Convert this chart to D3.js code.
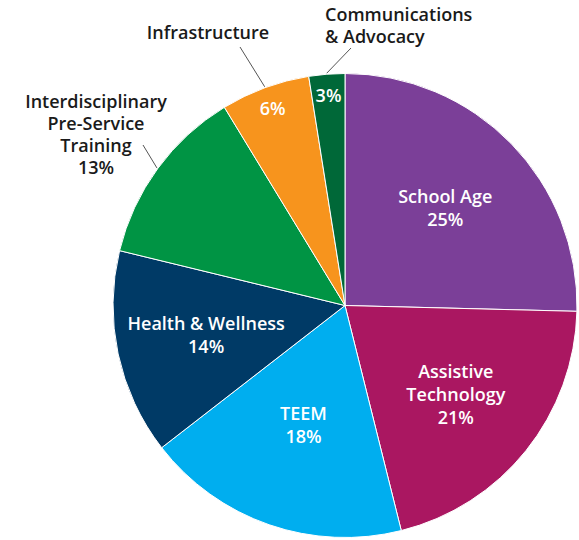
<!DOCTYPE html>
<html>
<head>
<meta charset="utf-8">
<script src="https://cdn.jsdelivr.net/npm/d3@7"></script>
<style>
  body { margin: 0; background: #fff; }
  svg text { font-family: "Open Sans", Lato, sans-serif; font-weight: 600; }
</style>
</head>
<body>
<svg id="chart" width="579" height="540"></svg>
<script>
// slice shares (labels show them rounded)
const categories = ["School Age", "Assistive Technology", "TEEM", "Health & Wellness",
  "Interdisciplinary Pre-Service Training", "Infrastructure", "Communications & Advocacy"];
const shares = [25.4, 20.7, 18.4, 14.3, 12.5, 6.2, 2.5];
const labelLines = [
  ["School Age"], ["Assistive", "Technology"], ["TEEM"], ["Health & Wellness"],
  ["Interdisciplinary", "Pre-Service", "Training"], ["Infrastructure"], ["Communications", "& Advocacy"]
];
const colors = ["#7b3f98", "#aa1761", "#00aeef", "#003a66", "#009444", "#f7941d", "#006838"];

const svg = d3.select("#chart");
const cx = 345, cy = 305.5, radius = 232;
const fontSize = "18px";

const pie = d3.pie().sort(null).value(d => d);
const arcs = pie(shares);
const arc = d3.arc().innerRadius(0).outerRadius(radius);

const g = svg.append("g").attr("transform", `translate(${cx},${cy})`);

g.selectAll("path")
  .data(arcs)
  .join("path")
  .attr("d", arc)
  .attr("fill", (d, i) => colors[i])
  .attr("stroke", "#fff")
  .attr("stroke-width", 1);

const pct = v => Math.round(v) + "%";
const lineH = 23;

// inside labels: name + percent, white
const insideR = {0: 140, 1: 142, 2: 127, 3: 142};
[0, 1, 2, 3].forEach(i => {
  const a = (arcs[i].startAngle + arcs[i].endAngle) / 2;
  const x = Math.sin(a) * insideR[i], y = -Math.cos(a) * insideR[i];
  const lines = labelLines[i].concat([pct(shares[i])]);
  const t = g.append("text")
    .attr("text-anchor", "middle")
    .attr("fill", "#fff")
    .style("font-size", fontSize);
  lines.forEach((s, k) => {
    t.append("tspan")
      .attr("x", x)
      .attr("y", y + (k - (lines.length - 1) / 2) * lineH)
      .attr("dy", "0.35em")
      .text(s);
  });
});

// small slices: percent only inside, near the rim
[5, 6].forEach(i => {
  const a = (arcs[i].startAngle + arcs[i].endAngle) / 2;
  g.append("text")
    .attr("x", Math.sin(a) * 210)
    .attr("y", -Math.cos(a) * 210)
    .attr("dy", "0.35em")
    .attr("text-anchor", "middle")
    .attr("fill", "#fff")
    .style("font-size", fontSize)
    .text(pct(shares[i]));
});

// outside labels with leader lines (page coordinates)
const outside = [
  { i: 4, lineEnd: [143, 145], x: 96, y: 102, anchor: "middle", withPct: true },
  { i: 5, lineEnd: [240, 47], x: 208, y: 33, anchor: "middle", withPct: false },
  { i: 6, lineEnd: [351, 48], x: 325, y: 15, anchor: "start", withPct: false }
];
outside.forEach(o => {
  const d = arcs[o.i];
  const a = (d.startAngle + d.endAngle) / 2;
  svg.append("line")
    .attr("x1", cx + Math.sin(a) * (radius + 1))
    .attr("y1", cy - Math.cos(a) * (radius + 1))
    .attr("x2", o.lineEnd[0])
    .attr("y2", o.lineEnd[1])
    .attr("stroke", "#555")
    .attr("stroke-width", 1);
  const lines = o.withPct ? labelLines[o.i].concat([pct(shares[o.i])]) : labelLines[o.i];
  const t = svg.append("text")
    .attr("text-anchor", o.anchor)
    .attr("fill", "#1a1a1a")
    .style("font-size", fontSize);
  lines.forEach((s, k) => {
    t.append("tspan")
      .attr("x", o.x)
      .attr("y", o.y + k * 22)
      .attr("dy", "0.35em")
      .text(s);
  });
});
</script>
</body>
</html>
